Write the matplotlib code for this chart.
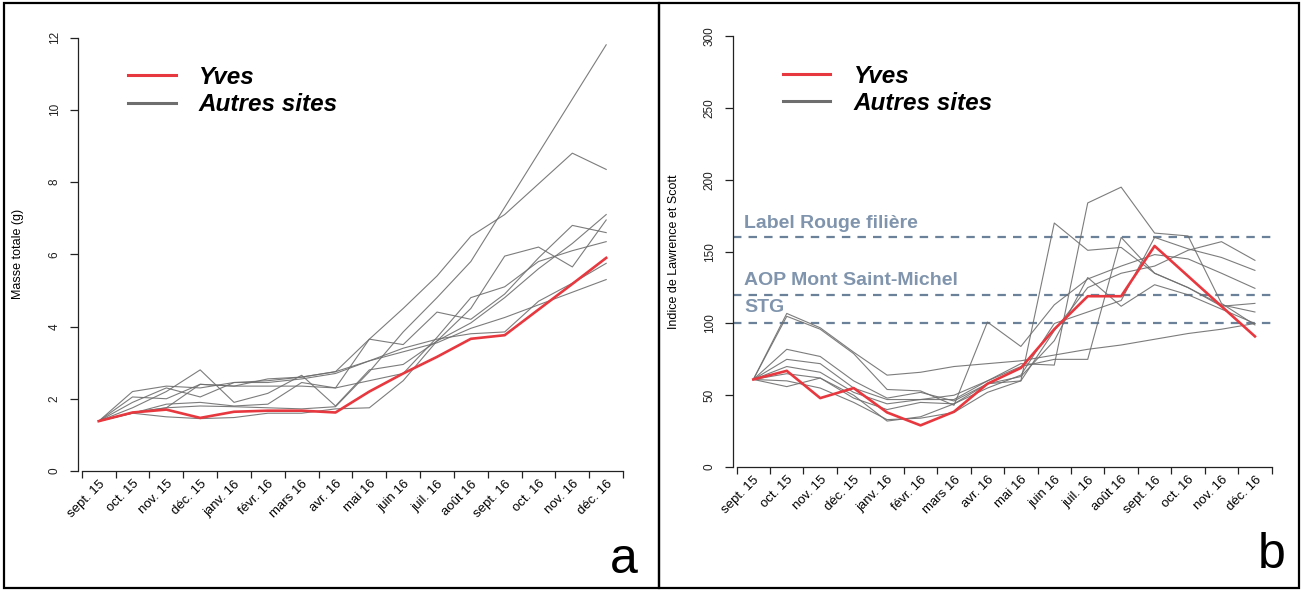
import numpy as np
import matplotlib
matplotlib.use("Agg")
import matplotlib.pyplot as plt
from matplotlib.lines import Line2D
from matplotlib.patches import Rectangle

plt.rcParams['font.family'] = ['Liberation Sans', 'DejaVu Sans']

mois = ["sept. 15", "oct. 15", "nov. 15", "déc. 15", "janv. 16", "févr. 16",
        "mars 16", "avr. 16", "mai 16", "juin 16", "juil. 16", "août 16",
        "sept. 16", "oct. 16", "nov. 16", "déc. 16"]

# masse totale (g)
masse_yves = [1.38, 1.62, 1.70, 1.47, 1.64, 1.67, 1.67, 1.62, 2.20, 2.70, 3.16, 3.66, 3.76, 4.47, 5.18, 5.90]
masse_autres = [
    [1.38, 1.62, 1.75, 1.80, 1.78, 1.75, 1.72, 1.78, 2.75, 3.85, 4.80, 5.80, 7.30, 8.80, 10.30, 11.80],
    [1.38, 2.20, 2.35, 2.30, 2.45, 2.50, 2.60, 2.75, 3.65, 4.50, 5.40, 6.50, 7.10, 7.95, 8.80, 8.35],
    [1.38, 1.60, 1.50, 1.45, 1.48, 1.60, 1.60, 1.72, 1.75, 2.50, 3.60, 4.50, 5.95, 6.20, 5.65, 6.95],
    [1.38, 2.05, 2.00, 2.40, 2.35, 2.35, 2.35, 2.30, 3.65, 3.50, 4.40, 4.20, 4.90, 5.90, 6.80, 6.60],
    [1.38, 1.90, 2.30, 2.05, 2.45, 2.45, 2.55, 2.70, 3.05, 3.30, 3.55, 3.95, 4.25, 4.60, 4.95, 5.30],
    [1.38, 1.75, 2.20, 2.80, 1.90, 2.15, 2.65, 1.80, 2.80, 2.95, 3.60, 4.10, 4.80, 5.60, 6.30, 7.10],
    [1.38, 1.60, 1.85, 1.90, 1.80, 1.85, 2.45, 2.30, 2.50, 2.70, 3.70, 4.80, 5.10, 5.80, 6.10, 6.35],
    [1.38, 1.62, 1.75, 2.40, 2.35, 2.55, 2.60, 2.75, 3.05, 3.40, 3.65, 3.80, 3.85, 4.70, 5.20, 5.75],
]

# indice de Lawrence et Scott
indice_yves = [61, 67, 48, 55, 38, 29, 38.5, 58, 69, 96, 119, 119, 154, 133, 112, 91]
indice_autres = [
    [61, 107, 97, 80, 64, 66, 70, 72, 74, 78, 82, 85, 89, 93, 96, 100],
    [61, 105, 96, 79, 54, 53, 43, 101, 84, 113, 131, 140, 148, 145, 135, 124.5],
    [61, 82, 77, 60, 48, 52, 46, 58, 60, 170, 151, 153, 135, 125, 112, 114],
    [61, 75, 72, 55, 47, 47, 47, 60, 72, 71, 184, 195, 163, 161, 114, 99],
    [61, 70, 66, 52, 44, 47, 50, 60, 70, 75, 75, 160, 135, 125, 113, 108],
    [61, 60, 55, 45, 33, 34, 38, 52, 60, 95, 125, 135, 140, 151, 157, 144],
    [61, 65, 62, 48, 40, 45, 44, 55, 64, 100, 108, 116, 160, 152, 146, 137],
    [61, 56, 62, 50, 32, 35, 44, 58, 63, 88, 132, 112, 127, 120, 110, 100],
]

seuils = [160, 120, 100]
seuils_noms = ["Label Rouge filière", "AOP Mont Saint-Michel", "STG"]
seuils_texte_y = [170, 130, 111]

ROUGE = "#e8383f"
GRIS = "#6e6e6e"
BLEU = "#6b8199"
BLEU_TXT = "#8095ad"

x = np.arange(1, len(mois) + 1)

fig = plt.figure(figsize=(13.03, 5.9), dpi=100)

# cadres des deux panneaux
for x0, w in [(0.003, 0.503), (0.506, 0.491)]:
    fig.patches.append(Rectangle((x0, 0.004), w, 0.991, transform=fig.transFigure,
                                 fill=False, edgecolor="black", linewidth=1.6))

ax1 = fig.add_axes([0.0599, 0.2017, 0.4209, 0.7346])
ax2 = fig.add_axes([0.5625, 0.2085, 0.4160, 0.7297])


def habiller(ax, ymax, yticks, ylabel, lettre):
    ax.set_xlim(0.39, 16.6)
    ax.set_ylim(0, ymax)
    for s in ["top", "right"]:
        ax.spines[s].set_visible(False)
    ax.spines["left"].set_bounds(0, ymax)
    ax.spines["bottom"].set_bounds(0.5, 16.5)
    for s in ["left", "bottom"]:
        ax.spines[s].set_linewidth(0.9)
        ax.spines[s].set_color("#222222")
    ax.set_yticks(yticks)
    ax.tick_params(axis="y", labelrotation=90, length=5.5, width=0.9, pad=7,
                   labelsize=8.5, colors="#222222")
    for lab in ax.get_yticklabels():
        lab.set_va("center")
    ax.set_xticks(np.arange(0.5, 17, 1))
    ax.set_xticklabels([])
    ax.tick_params(axis="x", length=5, width=0.9, colors="#222222")
    ax.set_xticks(x, mois, minor=True)
    ax.tick_params(axis="x", which="minor", length=0, pad=5, labelsize=9.5,
                   labelrotation=45)
    for lab in ax.get_xticklabels(minor=True):
        lab.set_ha("right")
        lab.set_rotation_mode("anchor")
    ax.set_ylabel(ylabel, fontsize=9)
    ax.yaxis.set_label_coords(-0.098, 0.5)
    ax.text(1.02, -0.235, lettre, transform=ax.transAxes, fontsize=36,
            ha="right", va="baseline")
    handles = [Line2D([], [], color=ROUGE, lw=2.2), Line2D([], [], color=GRIS, lw=2.2)]
    leg = ax.legend(handles, ["Yves", "Autres sites"], loc="upper left",
                    bbox_to_anchor=(0.052, 0.985), frameon=False,
                    handlelength=1.95, handletextpad=0.95, labelspacing=0.17,
                    prop={"size": 17.5, "weight": "bold", "style": "italic"})
    return leg


# panneau a : masse totale
for serie in masse_autres:
    ax1.plot(x, serie, color=GRIS, lw=0.8, alpha=0.9)
ax1.plot(x, masse_yves, color=ROUGE, lw=1.9)
habiller(ax1, 12, [0, 2, 4, 6, 8, 10, 12], "Masse totale (g)", "a")

# panneau b : indice de Lawrence et Scott
for y, nom, ty in zip(seuils, seuils_noms, seuils_texte_y):
    ax2.axhline(y, color=BLEU, lw=1.6, dashes=(3.8, 3.2))
    ax2.text(0.72, ty, nom, color=BLEU_TXT, fontsize=14, fontweight="bold",
             va="center", ha="left")
for serie in indice_autres:
    ax2.plot(x, serie, color=GRIS, lw=0.8, alpha=0.9)
ax2.plot(x, indice_yves, color=ROUGE, lw=1.9)
habiller(ax2, 300, [0, 50, 100, 150, 200, 250, 300], "Indice de Lawrence et Scott", "b")

fig.savefig("out.png", dpi=100)
